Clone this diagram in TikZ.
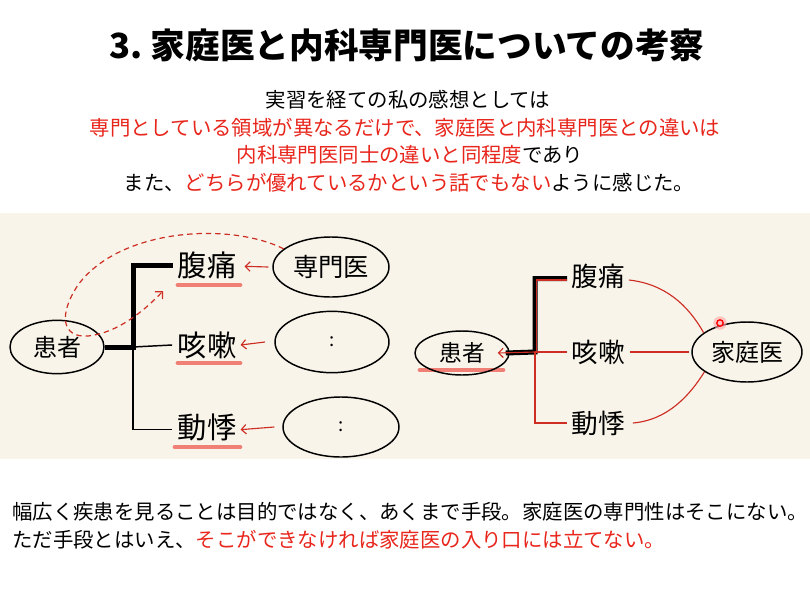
\documentclass[tikz,border=0pt]{standalone}
\usepackage{fontspec}
\setmainfont{Noto Sans CJK JP}
\usetikzlibrary{arrows.meta,shapes.geometric}
\definecolor{txtred}{RGB}{232,38,28}
\definecolor{lnred}{RGB}{205,45,35}
\definecolor{salmon}{RGB}{240,128,118}
\definecolor{beige}{RGB}{248,244,233}
\tikzset{
  body/.style={inner sep=0pt, font=\fontsize{15.3}{18}\selectfont},
  oval/.style={ellipse, draw, line width=1.1pt, inner sep=0pt},
  hand/.style={inner sep=0pt, font=\fontsize{22}{24}\selectfont},
  handr/.style={inner sep=0pt, font=\fontsize{20}{22}\selectfont},
  thickln/.style={line width=3.75pt},
  thinln/.style={line width=1.1pt},
  redthin/.style={draw=lnred, line width=0.85pt},
  barb/.style={-{Straight Barb[length=3.5pt,width=7pt]}},
  uline/.style={draw=salmon, line width=3.6pt, line cap=round},
}
\begin{document}
\begin{tikzpicture}[x=0.75pt,y=-0.75pt]
\useasboundingbox (0,0) rectangle (810,607);
\fill[white] (0,0) rectangle (810,607);
\fill[beige] (0,213) rectangle (810,459);

% texts
\node[inner sep=0pt, font=\fontsize{26}{30}\selectfont\bfseries] (title) at (407,45) {3.\ 家庭医と内科専門医についての考察};
\node[body] (t1) at (408,100) {実習を経ての私の感想としては};
\node[body, text=txtred] (t2) at (405,128) {専門としている領域が異なるだけで、家庭医と内科専門医との違いは};
\node[body] (t3) at (410,155) {\textcolor{txtred}{内科専門医同士の違いと同程度}であり};
\node[body] (t4) at (409,183) {また、\textcolor{txtred}{どちらが優れているかという話でもない}ように感じた。};
\node[body, anchor=west] (b1) at (12,512) {幅広く疾患を見ることは目的ではなく、あくまで手段。家庭医の専門性はそこにない。};
\node[body, anchor=west] (b2) at (12,540) {ただ手段とはいえ、\textcolor{txtred}{そこができなければ家庭医の入り口には立てない。}};

% ---------- left diagram ----------
\node[oval, minimum width=70.5pt, minimum height=40pt, font=\fontsize{18}{20}\selectfont] (pt1) at (57,347) {患者};
\node[oval, minimum width=87pt, minimum height=45pt, font=\fontsize{19}{21}\selectfont] (sm) at (331,267) {専門医};
\node[oval, minimum width=85.5pt, minimum height=46pt, font=\fontsize{14}{16}\selectfont] (e2) at (332,342) {:};
\node[oval, minimum width=87pt, minimum height=45pt, font=\fontsize{14}{16}\selectfont] (e3) at (341,427) {:};
\node[hand] (l1) at (207,265) {腹痛};
\node[hand] (l2) at (207,345) {咳嗽};
\node[hand] (l3) at (207,427) {動悸};

\draw[uline] (178,285) -- (240,285);
\draw[uline] (178,363) -- (240,363);
\draw[uline] (175,447) -- (240,447);

\coordinate (j1) at (133,347);
\draw[thickln] (pt1.east) -- (j1) |- ([xshift=-3.5pt]l1.west);
\draw[thinln] (j1) -- ([xshift=-4pt]l2.west);
\draw[thinln] (j1) |- ([xshift=-4pt,yshift=-2pt]l3.west);

\draw[redthin, barb] ([xshift=-3pt]sm.west) -- ([xshift=6pt,yshift=-1pt]l1.east);
\draw[redthin, barb] ([xshift=-7pt]e2.west) -- ([xshift=3pt]l2.east);
\draw[redthin, barb] ([xshift=-6pt]e3.west) -- ([xshift=3pt,yshift=-2pt]l3.east);

\coordinate (dend) at (163,291);
\draw[lnred, line width=0.9pt, dash pattern=on 4pt off 3pt, -{Straight Barb[length=4pt,width=8pt]}]
  (sm.159) .. controls (230,222) and (120,228) .. (78,285)
  .. controls (58,315) and (62,338) .. (88,336)
  .. controls (118,333) and (145,310) .. (dend);

% ---------- right diagram ----------
\draw[uline] (420,370) -- (503,370);
\node[oval, minimum width=70.5pt, minimum height=33pt, font=\fontsize{17}{19}\selectfont] (pt2) at (462,353) {患者};
\node[oval, minimum width=82.5pt, minimum height=45pt, font=\fontsize{18}{20}\selectfont] (fam) at (747,352) {家庭医};
\node[handr] (l4) at (598,276) {腹痛};
\node[handr] (l5) at (598,352) {咳嗽};
\node[handr] (l6) at (598,423) {動悸};

\coordinate (j2) at (535,352);
\draw[thickln] ([xshift=-3pt]pt2.east) -- (j2) |- ([xshift=-3pt,yshift=-2pt]l4.west);
\draw[redthin] ([xshift=1pt]j2) |- ([xshift=-3pt,yshift=-3pt]l4.west);
\draw[redthin] (j2) -- ([xshift=-3pt]l5.west);
\draw[redthin] (j2) |- ([xshift=-3pt]l6.west);
\draw[redthin, barb] (j2) -- ([xshift=-9pt]pt2.east);

\draw[redthin] ([xshift=3pt,yshift=-3pt]l4.east) .. controls (665,284) and (688,305) .. (fam.156);
\draw[redthin] ([xshift=4pt]l5.east) -- ([xshift=-2pt]fam.west);
\draw[redthin] ([xshift=6pt]l6.east) .. controls (668,420) and (690,395) .. (fam.205);

% pointer dot
\fill[red!35, opacity=0.6] (720,323) circle (5pt);
\draw[red, line width=1pt, fill=red!25] (720,323) circle (2.4pt);
\end{tikzpicture}
\end{document}
